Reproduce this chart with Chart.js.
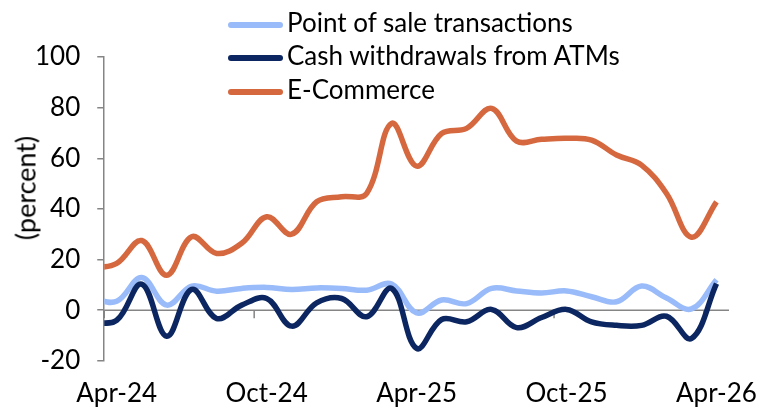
<!DOCTYPE html>
<html>
<head>
<meta charset="utf-8">
<script src="https://cdn.jsdelivr.net/npm/chart.js@4/dist/chart.umd.min.js"></script>
<style>
  html, body { margin: 0; padding: 0; background: #fff; }
  #wrap { position: relative; width: 764px; height: 410px; }
  #legend { position: absolute; left: 228px; top: 5px; font-family: Lato, "Noto Sans", sans-serif; font-size: 26px; color: #000; }
  #legend .row { display: flex; align-items: center; height: 33.5px; }
  #legend .swatch { width: 55px; height: 6px; border-radius: 3px; margin-right: 4px; margin-top: 6px; }
  #ytitle { position: absolute; left: 25px; top: 188px; transform: translate(-50%, -50%) rotate(-90deg);
            font-family: Lato, "Noto Sans", sans-serif; font-size: 27px; color: #000; white-space: nowrap; }
</style>
</head>
<body>
<div id="wrap">
  <canvas id="grafico" width="764" height="410"></canvas>
  <div id="legend"></div>
  <div id="ytitle"></div>
</div>
<script>
// mesi (Mar-24 is only the stub cut off by the axis)
let months = ["Mar-24", "Apr-24", "May-24", "Jun-24", "Jul-24", "Aug-24", "Sep-24", "Oct-24", "Nov-24", "Dec-24",
              "Jan-25", "Feb-25", "Mar-25", "Apr-25", "May-25", "Jun-25", "Jul-25", "Aug-25", "Sep-25", "Oct-25",
              "Nov-25", "Dec-25", "Jan-26", "Feb-26", "Mar-26", "Apr-26"];
let tickLabels = ["Apr-24", "Oct-24", "Apr-25", "Oct-25", "Apr-26"];
let yTitle = "(percent)";

let seriesNames = ["Point of sale transactions", "Cash withdrawals from ATMs", "E-Commerce"];
let posValues = [4.5, 3.5, 12.9, 2, 9.5, 7.5, 8.6, 9, 8.2, 8.8, 8.6, 7.9, 10.3, -1.1,
                 4, 2.6, 8.6, 7.6, 6.8, 7.6, 5.3, 3.3, 9.5, 4.8, 0.5, 12];
let atmValues = [-5, -4, 10.3, -10.3, 8.2, -3.3, 2, 4.6, -6.3, 2.9, 4.6, -2.6, 8.6, -15.1,
                 -3.7, -4.6, 0.3, -6.9, -2.9, 0.3, -4.6, -6, -6, -2.4, -11.2, 10.5];
let ecomValues = [16.5, 18.5, 27.5, 13.8, 29, 22.4, 26.4, 36.9, 30, 42.8, 44.8, 46.1, 73.8, 56.9,
                  69.8, 71.8, 79.7, 66.8, 67.5, 67.9, 67.2, 61.3, 57.3, 46.1, 28.8, 42.8];
let colors = ["#99bbf9", "#0b2660", "#d5683f"];

let axisColor = "#858585";
let font = "Lato, 'Noto Sans', sans-serif";
let tickIdx = tickLabels.map(t => months.indexOf(t));

function toPoints(values) {
    return values.map((v, i) => ({ x: i, y: v }));
}

// linea dello zero con le tacche dei semestri
const zeroLine = {
    id: 'zeroLine',
    beforeDatasetsDraw(chart) {
        const { ctx, chartArea, scales: { x, y } } = chart;
        const y0 = y.getPixelForValue(0);
        ctx.save();
        ctx.strokeStyle = axisColor;
        ctx.lineWidth = 1.5;
        ctx.beginPath();
        ctx.moveTo(chartArea.left, y0);
        ctx.lineTo(chartArea.right, y0);
        tickIdx.forEach(i => {
            const px = x.getPixelForValue(i - 0.5);
            ctx.moveTo(px, y0);
            ctx.lineTo(px, y0 + 8);
        });
        ctx.stroke();
        ctx.restore();
    }
};

let allValues = [posValues, atmValues, ecomValues];

let chart = new Chart("grafico", {
    type: "line",
    data: {
        datasets: allValues.map((vals, i) => ({
            label: seriesNames[i],
            data: toPoints(vals),
            borderColor: colors[i],
            backgroundColor: colors[i],
            borderWidth: 5.5,
            pointRadius: 0,
            tension: 0.38,
            order: 3 - i,
            clip: 0
        }))
    },
    options: {
        responsive: false,
        animation: false,
        layout: { padding: { top: 57, right: 35, bottom: 1, left: 18 } },
        plugins: { legend: { display: false }, tooltip: { enabled: false } },
        scales: {
            x: {
                type: "linear",
                min: 0.5,
                max: 25.5,
                afterBuildTicks: scale => { scale.ticks = tickIdx.map(v => ({ value: v })); },
                // la griglia è nascosta, tickLength serve solo a spostare le etichette
                grid: { display: false, drawTicks: true, tickLength: 17 },
                border: { display: false },
                ticks: {
                    autoSkip: false,
                    maxRotation: 0,
                    padding: 0,
                    color: "#000",
                    font: { family: font, size: 26 },
                    callback: v => months[v]
                }
            },
            y: {
                min: -20,
                max: 100,
                grid: { drawOnChartArea: false, tickLength: 7, color: axisColor, lineWidth: 1.5 },
                border: { color: axisColor, width: 1.5 },
                ticks: { stepSize: 20, padding: 17, color: "#000", font: { family: font, size: 26 } }
            }
        }
    },
    plugins: [zeroLine]
});

// legenda html
let legend = document.getElementById('legend');
seriesNames.forEach((name, i) => {
    let row = document.createElement('div');
    row.className = 'row';
    row.innerHTML = '<span class="swatch" style="background:' + colors[i] + '"></span><span>' + name + '</span>';
    legend.appendChild(row);
});
document.getElementById('ytitle').textContent = yTitle;
</script>
</body>
</html>
